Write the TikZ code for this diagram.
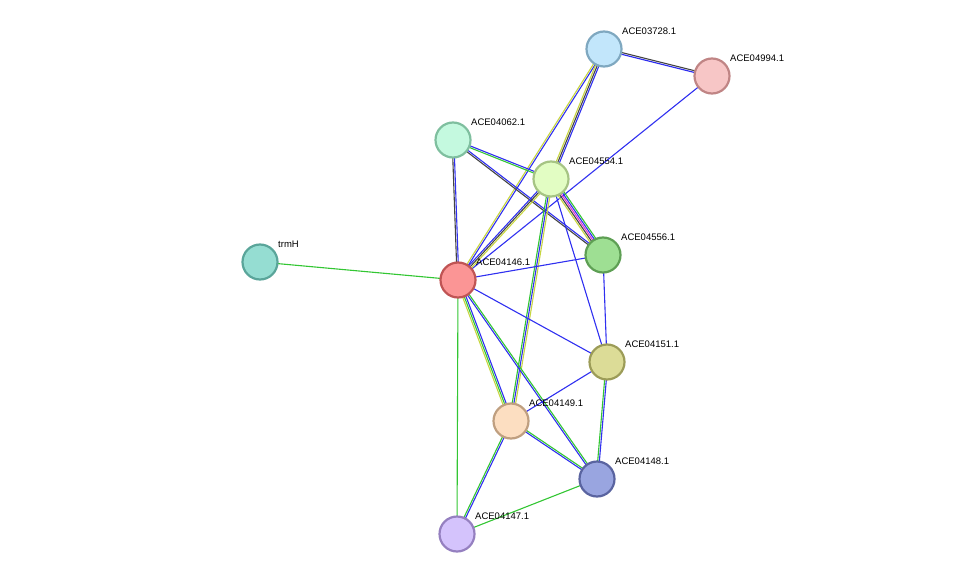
\documentclass[tikz,border=0pt]{standalone}
\usepackage{fontspec}
\setmainfont{Liberation Sans}
\usetikzlibrary{calc}
\definecolor{lgreen}{HTML}{33C633}
\definecolor{lblue}{HTML}{2F2FF0}
\definecolor{lyellow}{HTML}{C8D640}
\definecolor{lblack}{HTML}{444444}
\definecolor{lmagenta}{HTML}{E033D6}
\tikzset{
  prot/.style={circle,draw,line width=2.2pt,minimum size=35pt,inner sep=0pt},
  lab/.style={anchor=south west,inner sep=0pt,font=\fontsize{9.5}{11}\selectfont},
  edgeline/.style={line width=1.1pt}
}
\newcommand{\edge}[3]{%
  \foreach \c [count=\i] in {#3} {\global\let\nn\i}%
  \foreach \c [count=\i] in {#3} {%
    \pgfmathsetmacro{\off}{(\i-(\nn+1)/2)*1.7}%
    \draw[edgeline,draw=\c] ($(#1)!\off pt!90:(#2)$) -- ($(#2)!\off pt!-90:(#1)$);}}
\begin{document}
\begin{tikzpicture}[x=1pt,y=-1pt]
\useasboundingbox (0,0) rectangle (976,580);
\coordinate (A) at (604,49); \coordinate (B) at (712,76);
\coordinate (C) at (453,140); \coordinate (D) at (551,179);
\coordinate (T) at (260,262); \coordinate (E) at (603,255);
\coordinate (F) at (458,280); \coordinate (G) at (607,362);
\coordinate (H) at (511,421); \coordinate (I) at (597,479);
\coordinate (J) at (457,534);
\edge{A}{B}{lblue,lblack}
\edge{A}{F}{lyellow,lblue}
\edge{A}{D}{lyellow,lblack,lblue}
\edge{B}{F}{lblue}
\edge{C}{F}{lblack,lblue}
\edge{C}{D}{lgreen,lblue}
\edge{C}{E}{lblack,lblue}
\edge{D}{F}{lblue,lblack,lyellow}
\edge{D}{E}{lyellow,lblack,lmagenta,lblue,lgreen}
\edge{D}{H}{lgreen,lblue,lyellow}
\edge{D}{G}{lblue}
\edge{T}{F}{lgreen}
\edge{F}{E}{lblue}
\edge{F}{G}{lblue}
\edge{F}{H}{lyellow,lgreen,lblue}
\edge{F}{I}{lblue,lgreen}
\edge{F}{J}{lgreen}
\edge{E}{G}{lblue}
\edge{G}{H}{lblue}
\edge{G}{I}{lgreen,lblue}
\edge{H}{I}{lblue,lgreen}
\edge{H}{J}{lgreen,lblue}
\edge{I}{J}{lgreen}
\definecolor{fA}{HTML}{C2E6FB}\definecolor{dA}{HTML}{7FA8C0}
\node[prot,fill=fA,draw=dA] (n03728) at (A) {};
\definecolor{fB}{HTML}{F7C6C6}\definecolor{dB}{HTML}{C08585}
\node[prot,fill=fB,draw=dB] (n04994) at (B) {};
\definecolor{fC}{HTML}{C4F9DF}\definecolor{dC}{HTML}{7FBF9F}
\node[prot,fill=fC,draw=dC] (n04062) at (C) {};
\definecolor{fD}{HTML}{E2FDC3}\definecolor{dD}{HTML}{A6C484}
\node[prot,fill=fD,draw=dD] (n04554) at (D) {};
\definecolor{fT}{HTML}{95DDD2}\definecolor{dT}{HTML}{5AA59A}
\node[prot,fill=fT,draw=dT] (ntrmH) at (T) {};
\definecolor{fE}{HTML}{9EDF93}\definecolor{dE}{HTML}{5E9F54}
\node[prot,fill=fE,draw=dE] (n04556) at (E) {};
\definecolor{fF}{HTML}{FB9595}\definecolor{dF}{HTML}{C05454}
\node[prot,fill=fF,draw=dF] (n04146) at (F) {};
\definecolor{fG}{HTML}{DCDC97}\definecolor{dG}{HTML}{9C9C58}
\node[prot,fill=fG,draw=dG] (n04151) at (G) {};
\definecolor{fH}{HTML}{FCDEC1}\definecolor{dH}{HTML}{BF9F80}
\node[prot,fill=fH,draw=dH] (n04149) at (H) {};
\definecolor{fI}{HTML}{99A5E0}\definecolor{dI}{HTML}{5A64A0}
\node[prot,fill=fI,draw=dI] (n04148) at (I) {};
\definecolor{fJ}{HTML}{D4C3FC}\definecolor{dJ}{HTML}{9580C0}
\node[prot,fill=fJ,draw=dJ] (n04147) at (J) {};
\node[lab] (l03728) at ($(A)+(18,-14)$) {ACE03728.1};
\node[lab] (l04994) at ($(B)+(18,-14)$) {ACE04994.1};
\node[lab] (l04062) at ($(C)+(18,-14)$) {ACE04062.1};
\node[lab] (l04554) at ($(D)+(18,-14)$) {ACE04554.1};
\node[lab] (ltrmH) at ($(T)+(18,-14)$) {trmH};
\node[lab] (l04556) at ($(E)+(18,-14)$) {ACE04556.1};
\node[lab] (l04146) at ($(F)+(18,-14)$) {ACE04146.1};
\node[lab] (l04151) at ($(G)+(18,-14)$) {ACE04151.1};
\node[lab] (l04149) at ($(H)+(18,-14)$) {ACE04149.1};
\node[lab] (l04148) at ($(I)+(18,-14)$) {ACE04148.1};
\node[lab] (l04147) at ($(J)+(18,-14)$) {ACE04147.1};
\end{tikzpicture}
\end{document}
